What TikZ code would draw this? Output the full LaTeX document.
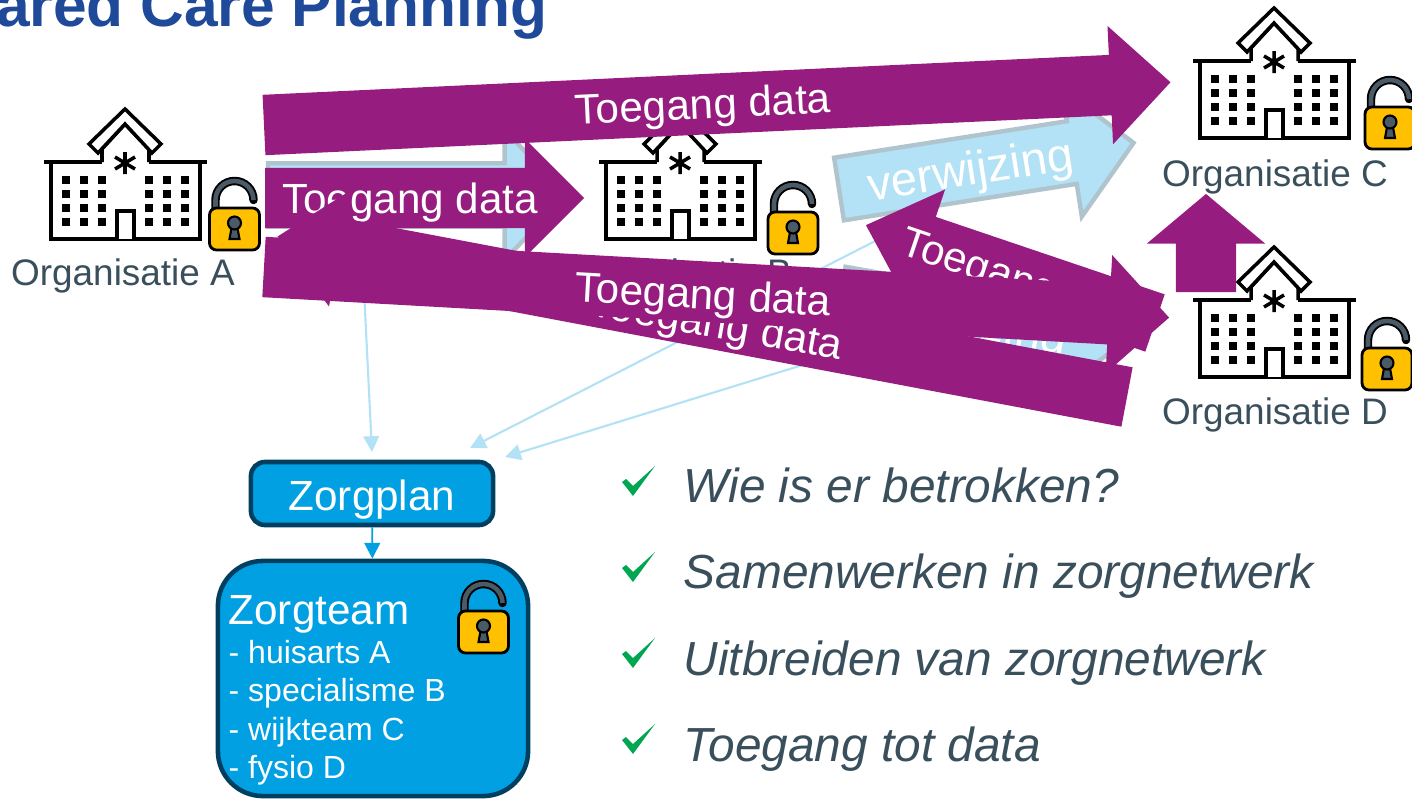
\documentclass[tikz,border=0pt]{standalone}
\usepackage{fontspec}
\setmainfont{Liberation Sans}
\usetikzlibrary{shapes.arrows,arrows.meta}
\definecolor{plum}{HTML}{961C7F}
\definecolor{skyfill}{HTML}{B3E1F5}
\definecolor{skyedge}{HTML}{B0C4CE}
\definecolor{careblue}{HTML}{00A0E3}
\definecolor{navy}{HTML}{003F5F}
\definecolor{slate}{HTML}{3A4F5C}
\definecolor{titleblue}{HTML}{1F4A9A}
\definecolor{lockgold}{HTML}{FFC000}
\definecolor{lockgrey}{HTML}{4A5A66}
\definecolor{tickgreen}{HTML}{00A651}

\tikzset{
  bigarrow/.style={single arrow,fill=plum,inner sep=0pt,outer sep=0pt,anchor=tail,
    text height=0pt,text depth=0pt,inner ysep=.295cm,single arrow head extend=.29cm,
    single arrow tip angle=89},
  referral/.style={single arrow,fill=skyfill,draw=skyedge,line width=1.25pt,inner sep=0pt,outer sep=0pt,anchor=tail,
    text height=0pt,text depth=0pt,inner ysep=.295cm,single arrow head extend=.33cm,
    single arrow tip angle=92},
  datalabel/.style={text=white,font=\fontsize{12}{14}\selectfont},
  referrallabel/.style={text=white,font=\fontsize{13.4}{16}\selectfont},
  orglabel/.style={text=slate,font=\fontsize{10.5}{12}\selectfont},
  bullettext/.style={text=slate,anchor=base west,inner sep=0pt,font=\fontsize{13.6}{16}\selectfont\itshape},
  sketchline/.style={draw=skyfill,line width=.6pt,-{Triangle[width=4.5pt,length=4.5pt]}},
  hospital/.pic={
    \fill[white] (-74,53) rectangle (75,130);
    \draw[line width=1pt] (-74,53) -- (-74,130) -- (75,130) -- (75,53);
    \draw[line width=1pt] (-81,53) -- (-23,53) (24,53) -- (82,53);
    \draw[line width=1pt,fill=white] (-23,53) -- (-23,40) -- (0,15) -- (24,40) -- (24,53);
    \draw[line width=1pt,fill=white] (0,0) -- (36,35) -- (27,44) -- (0,15) -- (-27,44) -- (-36,35) -- cycle;
    \draw[line width=1pt,fill=white] (-8,130) -- (-8,102) -- (9,102) -- (9,130);
    \draw[line width=1pt] (0,43) -- (0,65) (-10,48) -- (10,60) (-10,60) -- (10,48);
    \foreach \wx in {-59,-41,-23,24,42,60}
      \foreach \wy in {71,85,99,113}
        \fill (\wx-4,\wy-4) rectangle ++(8,8);
  },
  padlock/.pic={
    \draw[line width=2.4pt,line cap=round] (-19,2) -- (-19,-8) .. controls (-19,-18.5) and (-10.5,-27) .. (0,-27)
      .. controls (10.5,-27) and (19,-18.5) .. (19,-8);
    \draw[lockgrey,line width=1.3pt] (-19,2) -- (-19,-8) .. controls (-19,-18.5) and (-10.5,-27) .. (0,-27)
      .. controls (10.5,-27) and (19,-18.5) .. (19,-8);
    \draw[line width=.8pt,fill=lockgold,rounded corners=.07cm] (-25,0) rectangle (25,42);
    \draw[line width=.6pt,fill=lockgrey] (-3,20) -- (-5,31) -- (5,31) -- (3,20) -- cycle;
    \draw[line width=.6pt,fill=lockgrey] (0,15) circle[radius=6.5];
  },
  tickmark/.pic={
    \fill[tickgreen] (0,0) -- (-22,20) -- (-29,13) -- (-33,16) -- (-22,30) -- cycle;
  }
}

\begin{document}
\begin{tikzpicture}[x=.01cm,y=-.01cm]
  \useasboundingbox (0,0) rectangle (1412,800);

  \node[anchor=base east,inner sep=0pt,text=titleblue,font=\fontsize{17.2}{20}\selectfont\bfseries] (title) at (548,27) {ared Care Planning};

  % organisations
  \pic at (125,109) {hospital};
  \pic at (234.5,208) {padlock};
  \node[orglabel] (orgA) at (123,276) {Organisatie A};
  \pic at (680,109) {hospital};
  \pic at (793,212) {padlock};
  \node[orglabel] (orgB) at (680,276) {Organisatie B};
  \pic at (1274,8) {hospital};
  \pic at (1390,107) {padlock};
  \node[orglabel] (orgC) at (1275,177) {Organisatie C};
  \pic at (1274,247) {hospital};
  \pic at (1387,348) {padlock};
  \node[orglabel] (orgD) at (1275,415) {Organisatie D};

  % care plan and team
  \node[draw=navy,fill=careblue,line width=1.3pt,rounded corners=.14cm,minimum width=2.42cm,minimum height=.63cm,inner ysep=0pt,
    text=white,text height=11.4pt,text depth=2pt,font=\fontsize{12}{14}\selectfont] (zorgplan) at (372,493.5) {Zorgplan};
  \node[draw=navy,fill=careblue,line width=1.3pt,rounded corners=.45cm,minimum width=3.1cm,minimum height=2.35cm] (zorgteam) at (373,678.5) {};
  \node[anchor=north west,inner sep=0pt,align=left,text=white,font=\fontsize{9.1}{10.95}\selectfont] (teamlist) at (228,595)
    {{\fontsize{12}{14}\selectfont Zorgteam}\\- huisarts A\\- specialisme B\\- wijkteam C\\- fysio D};
  \pic at (483.5,611) {padlock};
  \draw[careblue,line width=.5pt,-{Triangle[width=4.5pt,length=4.5pt]}] (zorgplan) -- (zorgteam);

  % thin lines to the plan
  \coordinate (planA) at (372,452);
  \coordinate (planB) at (470,448);
  \coordinate (planC) at (505,457);
  \coordinate (fromA) at (364,290);
  \coordinate (fromB) at (885,236);
  \coordinate (fromC) at (1000,304);
  \draw[sketchline] (fromA) -- (planA);
  \draw[sketchline] (fromB) -- (planB);
  \draw[sketchline] (fromC) -- (planC);

  % referrals
  \node[referral,minimum height=2.99cm] (referralAB) at (268,195) {};
  \node[referral,minimum height=2.98cm,rotate=8.9] (referralBC) at (839,189) {};
  \node[referrallabel,rotate=8.9] (referralBCtext) at (971,173) {verwijzing};
  \node[referral,minimum height=2.82cm,rotate=-10] (referralBD) at (840,298) {};
  \node[referrallabel,rotate=-10] (referralBDtext) at (965,325) {verwijzing};

  % data access
  \node[bigarrow,minimum height=3.19cm,single arrow tip angle=90] (accessB) at (265,198) {};
  \node[datalabel] (accessBtext) at (410,203) {Toegang data};
  \node[bigarrow,minimum height=3.05cm,rotate=161.3,single arrow tip angle=86] (backDB) at (1155,323) {};
  \node[datalabel,rotate=-18.7] (backDBtext) at (1023,284) {Toegang data};
  \node[bigarrow,minimum height=8.64cm,rotate=169.3,single arrow tip angle=86] (backDA) at (1127,397) {};
  \node[datalabel,rotate=-10] (backDAtext) at (716,327) {Toegang data};
  \node[bigarrow,minimum height=9.06cm,rotate=-3.2] (accessD) at (264,267) {};
  \node[datalabel,rotate=-3.2] (accessDtext) at (703,298) {Toegang data};
  \node[bigarrow,minimum height=9.07cm,rotate=2.7] (accessC) at (264,125) {};
  \node[datalabel,rotate=2.7] (accessCtext) at (703,108) {Toegang data};
  \node[bigarrow,minimum height=.98cm,rotate=90,single arrow tip angle=100] (accessDC) at (1206,292) {};

  % questions
  \pic at (655,466) {tickmark};
  \node[bullettext] (itemone) at (683,502) {Wie is er betrokken?};
  \pic at (655,552) {tickmark};
  \node[bullettext] (itemtwo) at (683,588) {Samenwerken in zorgnetwerk};
  \pic at (655,638) {tickmark};
  \node[bullettext] (itemthree) at (683,675) {Uitbreiden van zorgnetwerk};
  \pic at (655,724) {tickmark};
  \node[bullettext] (itemfour) at (683,761) {Toegang tot data};
\end{tikzpicture}
\end{document}
